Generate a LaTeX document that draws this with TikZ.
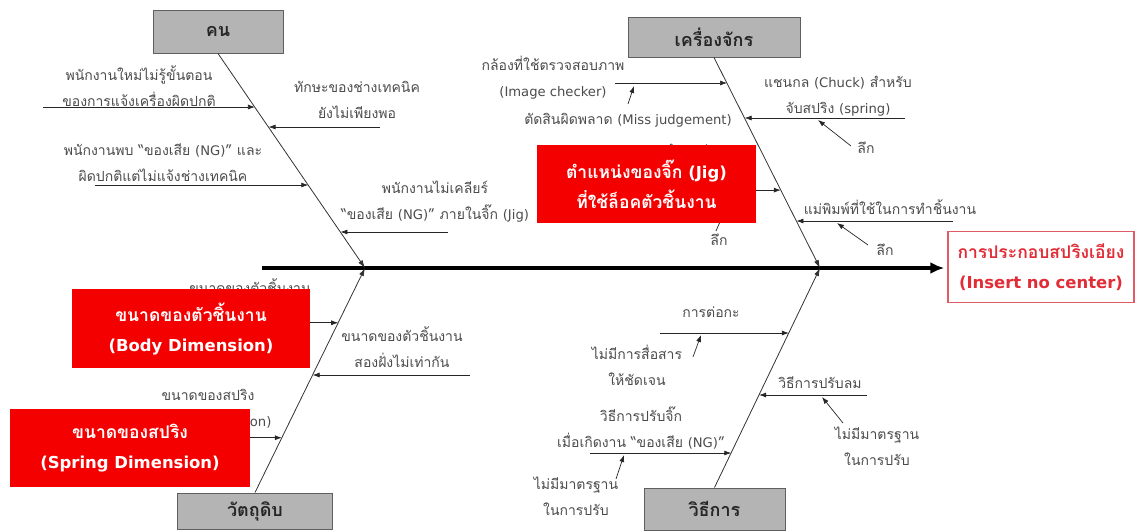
\documentclass[tikz,border=0pt]{standalone}
\usepackage{fontspec}
\setmainfont[Script=Thai]{Loma}
\newfontfamily\latf{DejaVu Sans}[Scale=0.94]
\newcommand{\lat}[1]{{\latf #1}}
\usetikzlibrary{calc,arrows.meta}
\definecolor{txtc}{RGB}{75,75,75}
\definecolor{catfill}{RGB}{180,180,180}
\definecolor{catdraw}{RGB}{95,95,95}
\definecolor{redf}{RGB}{245,0,0}
\definecolor{effc}{RGB}{225,45,55}
\definecolor{effd}{RGB}{225,90,100}
\tikzset{
  lbl/.style={text=txtc, align=center, inner sep=0pt, font=\fontsize{14}{26}\selectfont},
  catbox/.style={draw=catdraw, fill=catfill, line width=1pt, inner sep=0pt, font=\fontsize{18}{20}\selectfont\bfseries, text=black!85},
  redbox/.style={fill=redf, text=white, align=center, inner sep=0pt, font=\fontsize{17.5}{30}\selectfont\bfseries},
  arr/.style={draw=black!85, line width=0.7pt, -{Latex[length=7pt,width=5pt]}},
  bone/.style={draw=black!80, line width=0.8pt, -{Latex[length=8pt,width=5pt]}},
  spine/.style={draw=black, line width=3.5pt, -{Latex[length=14pt,width=12pt]}},
}
\begin{document}
\begin{tikzpicture}[x=1pt,y=-1pt]
\useasboundingbox (0,0) rectangle (1138,531);
% category boxes
\node[catbox, minimum width=130pt, minimum height=43pt] (kon) at (218,31.5) {คน};
\node[catbox, minimum width=172pt, minimum height=40pt] (mach) at (714,37) {เครื่องจักร};
\node[catbox, minimum width=155pt, minimum height=36pt] (mat) at (255,511) {วัตถุดิบ};
\node[catbox, minimum width=141pt, minimum height=42pt] (meth) at (714.5,509) {วิธีการ};
% effect
\node[draw=effd, line width=1.5pt, minimum width=186pt, minimum height=71pt, align=center, text=effc, font=\fontsize{17.5}{30}\selectfont\bfseries, inner sep=0pt] (eff) at (1041,267) {การประกอบสปริงเอียง\\\lat{(Insert no center)}};
% spine
\coordinate (sp) at (262,268);
\draw[spine] (sp) -- ([xshift=-3pt]sp -| eff.west);
% bones
\coordinate (A) at (365,268);
\coordinate (B) at (820,268);
\draw[bone] (kon.south) -- (A);
\draw[bone] (mach.south) -- (B);
\draw[bone] (mat.north) -- (A);
\draw[bone] (meth.north) -- (B);
% points on bones
\coordinate (k1) at ($(kon.south)!0.251!(A)$);
\coordinate (k2) at ($(kon.south)!0.344!(A)$);
\coordinate (k3) at ($(kon.south)!0.614!(A)$);
\coordinate (k4) at ($(kon.south)!0.833!(A)$);
\coordinate (m1) at ($(mach.south)!0.123!(B)$);
\coordinate (m2) at ($(mach.south)!0.289!(B)$);
\coordinate (m3) at ($(mach.south)!0.630!(B)$);
\coordinate (m4) at ($(mach.south)!0.777!(B)$);
\coordinate (a1) at ($(mat.north)!0.756!(A)$);
\coordinate (a2) at ($(mat.north)!0.524!(A)$);
\coordinate (a3) at ($(mat.north)!0.244!(A)$);
\coordinate (d1) at ($(meth.north)!0.705!(B)$);
\coordinate (d2) at ($(meth.north)!0.423!(B)$);
\coordinate (d3) at ($(meth.north)!0.159!(B)$);
% ---- คน
\node[lbl] (t1) at (139,86) {พนักงานใหม่ไม่รู้ขั้นตอน\\ของการแจ้งเครื่องผิดปกติ};
\coordinate (s1) at (43,107);
\draw[arr] (s1) -- (s1 -| k1);
\node[lbl] (t2) at (357,100) {ทักษะของช่างเทคนิค\\ยังไม่เพียงพอ};
\coordinate (s2) at (380,127);
\draw[arr] (s2) -- (s2 -| k2);
\node[lbl] (t3) at (163,163) {พนักงานพบ “ของเสีย \lat{(NG)}” และ\\ผิดปกติแต่ไม่แจ้งช่างเทคนิค};
\coordinate (s3) at (95,185);
\draw[arr] (s3) -- (s3 -| k3);
\node[lbl] (t4) at (435,202) {พนักงานไม่เคลียร์\\“ของเสีย \lat{(NG)}” ภายในจิ๊ก \lat{(Jig)}};
\coordinate (s4) at (448,232);
\draw[arr] (s4) -- (s4 -| k4);
% ---- เครื่องจักร
\node[lbl] (mt1) at (553,78) {กล้องที่ใช้ตรวจสอบภาพ\\\lat{(Image checker)}};
\coordinate (r1) at (615,83);
\draw[arr] (r1) -- (r1 -| m1);
\node[lbl] (mj) at (628,120) {ตัดสินผิดพลาด \lat{(Miss judgement)}};
\coordinate (mjt) at (628,104);
\coordinate (mjh) at (634,86);
\draw[arr] (mjt) -- (mjh);
\node[lbl] (mt2) at (838,96) {แชนกล \lat{(Chuck)} สำหรับ\\จับสปริง \lat{(spring)}};
\coordinate (r2) at (905,118);
\draw[arr] (r2) -- (r2 -| m2);
\node[lbl] (lk1) at (866,148) {ลึก};
\coordinate (lk1t) at (851,146);
\coordinate (lk1h) at (818,120);
\draw[arr] (lk1t) -- (lk1h);
\node[lbl] (hj) at (690,150) {ตำแหน่ง};
\node[lbl] (lk2) at (719,240) {ลึก};
\coordinate (lk2t) at (716,231);
\coordinate (lk2h) at (726,208);
\draw[arr] (lk2t) -- (lk2h);
\node[redbox, minimum width=219pt, minimum height=78pt] (jig) at (646.5,184) {ตำแหน่งของจิ๊ก \lat{(Jig)}\\ที่ใช้ล็อคตัวชิ้นงาน};
\draw[arr] (jig.east |- m3) -- (m3);
\node[lbl] (mt4) at (890,207) {แม่พิมพ์ที่ใช้ในการทำชิ้นงาน};
\coordinate (r4) at (953,221);
\draw[arr] (r4) -- (r4 -| m4);
\node[lbl] (lk3) at (885,250) {ลึก};
\coordinate (lk3t) at (868,245);
\coordinate (lk3h) at (837,223);
\draw[arr] (lk3t) -- (lk3h);
% ---- วัตถุดิบ
\node[lbl] (h1) at (250,300) {ขนาดของตัวชิ้นงาน\\\lat{(Body Dimension)}};
\node[redbox, minimum width=238pt, minimum height=79pt] (body) at (191,328.5) {ขนาดของตัวชิ้นงาน\\\lat{(Body Dimension)}};
\draw[arr] (body.east |- a1) -- (a1);
\node[lbl] (at2) at (402,347) {ขนาดของตัวชิ้นงาน\\สองฝั่งไม่เท่ากัน};
\coordinate (q2) at (470,375);
\draw[arr] (q2) -- (q2 -| a2);
\node[lbl] (h2) at (208,409) {ขนาดของสปริง\\\lat{(Spring Dimension)}};
\node[redbox, minimum width=240pt, minimum height=78pt] (spr) at (130,448) {ขนาดของสปริง\\\lat{(Spring Dimension)}};
\draw[arr] (spr.east |- a3) -- (a3);
% ---- วิธีการ
\node[lbl] (dt1) at (711,312) {การต่อกะ};
\coordinate (p1) at (660,333);
\draw[arr] (p1) -- (p1 -| d1);
\node[lbl] (ds1) at (637,365) {ไม่มีการสื่อสาร\\ให้ชัดเจน};
\coordinate (ds1t) at (693,357);
\coordinate (ds1h) at (701,335);
\draw[arr] (ds1t) -- (ds1h);
\node[lbl] (dt2) at (820,383) {วิธีการปรับลม};
\coordinate (p2) at (867,395);
\draw[arr] (p2) -- (p2 -| d2);
\node[lbl] (ds2) at (877,446) {ไม่มีมาตรฐาน\\ในการปรับ};
\coordinate (ds2t) at (843,423);
\coordinate (ds2h) at (822,397);
\draw[arr] (ds2t) -- (ds2h);
\node[lbl] (dt3) at (641,428) {วิธีการปรับจิ๊ก\\เมื่อเกิดงาน “ของเสีย \lat{(NG)}”};
\coordinate (p3) at (590,453);
\draw[arr] (p3) -- (p3 -| d3);
\node[lbl] (ds3) at (576,496) {ไม่มีมาตรฐาน\\ในการปรับ};
\coordinate (ds3t) at (616,479);
\coordinate (ds3h) at (624,455);
\draw[arr] (ds3t) -- (ds3h);
\end{tikzpicture}
\end{document}
